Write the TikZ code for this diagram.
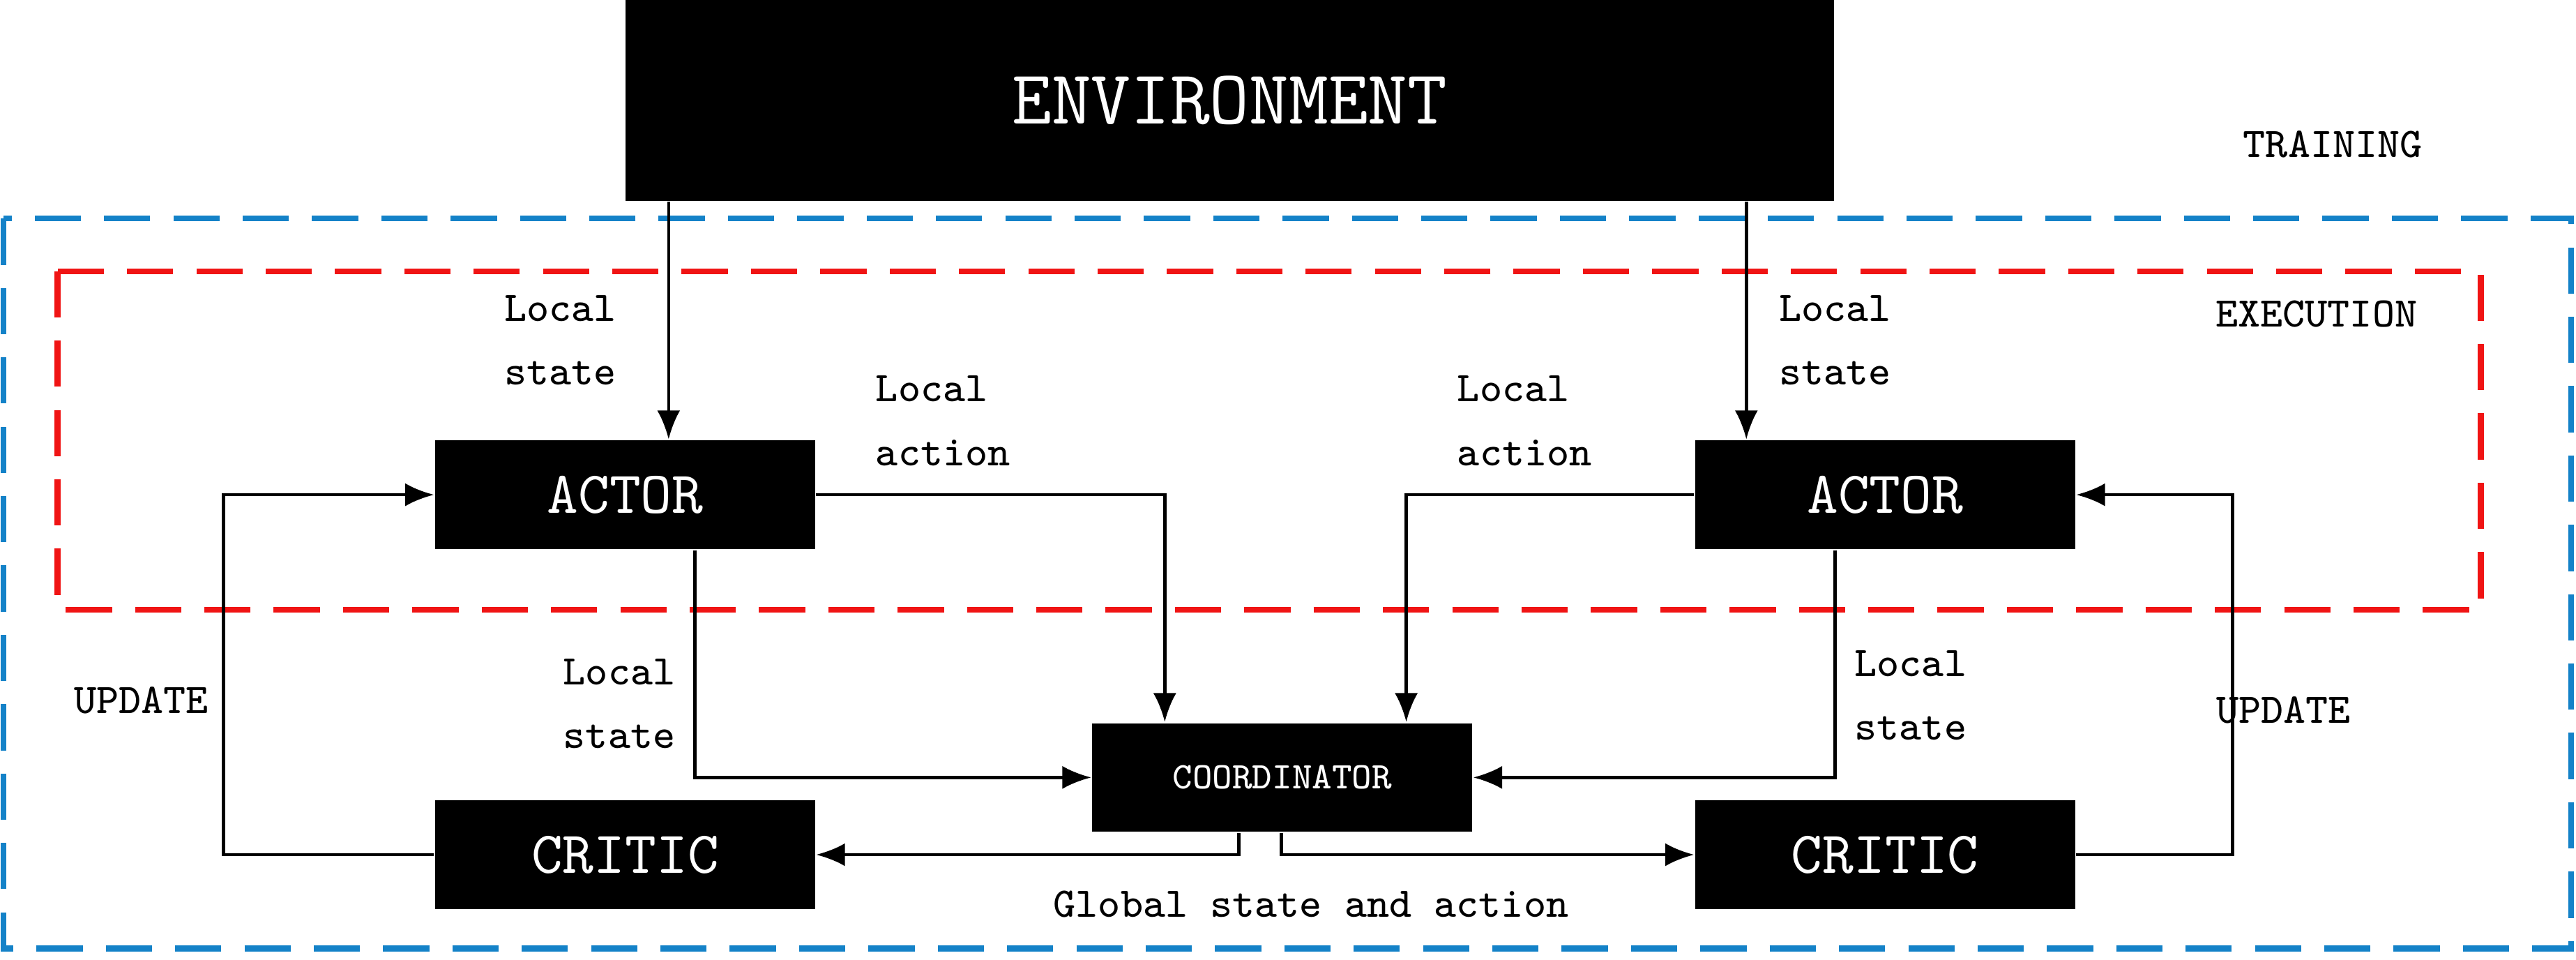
\documentclass[tikz,border=0pt]{standalone}
\usepackage{tikz}
\usetikzlibrary{positioning,calc,arrows.meta}
\tikzset{blk/.style={fill=black, text=white, inner sep=0pt, font=\ttfamily\fontsize{10.3}{12}\selectfont}}
\tikzset{lbl/.style={align=left, inner sep=0pt, font=\ttfamily\fontsize{7.3}{11}\selectfont}}
\tikzset{arr/.style={draw, -{Latex[length=5pt,width=4pt]}, line width=0.55pt}}
\tikzset{zone/.style={dashed, dash pattern=on 8pt off 4pt, line width=1pt}}
\begin{document}
\begin{tikzpicture}[x=0.01cm,y=-0.01cm]
\useasboundingbox (0,0) rectangle (1568,584);
% zones
\draw[zone, draw={rgb,255:red,20;green,130;blue,200}] (2,133) rectangle (1565,577);
\draw[zone, draw={rgb,255:red,240;green,20;blue,20}] (35,165) rectangle (1510,371);
\node[lbl] (training) at (1420,88) {TRAINING};
\node[lbl] (execution) at (1410,191) {EXECUTION};
% boxes
\node[blk, minimum width=7.35cm, minimum height=1.22cm, font=\ttfamily\fontsize{13.3}{15}\selectfont] (env) at (748.5,61) {ENVIRONMENT};
\node[blk, minimum width=2.31cm, minimum height=0.66cm] (actL) at (380.5,301) {ACTOR};
\node[blk, minimum width=2.31cm, minimum height=0.66cm] (actR) at (1147.5,301) {ACTOR};
\node[blk, minimum width=2.31cm, minimum height=0.66cm] (criL) at (380.5,520) {CRITIC};
\node[blk, minimum width=2.31cm, minimum height=0.66cm] (criR) at (1147.5,520) {CRITIC};
\node[blk, minimum width=2.31cm, minimum height=0.66cm, font=\ttfamily\fontsize{6.5}{8}\selectfont] (coord) at (780.5,473) {COORDINATOR};
% connectors
\draw[arr] (env.south -| 407,0) -- (actL.north -| 407,0);
\draw[arr] (env.south -| 1063,0) -- (actR.north -| 1063,0);
\draw[arr] (actL.east) -- (709,301) -- (coord.north -| 709,0);
\draw[arr] (actR.west) -- (856,301) -- (coord.north -| 856,0);
\draw[arr] (actL.south -| 423,0) -- (423,473) -- (coord.west);
\draw[arr] (actR.south -| 1117,0) -- (1117,473) -- (coord.east);
\draw[arr] (coord.south -| 754,0) -- (754,520) -- (criL.east);
\draw[arr] (coord.south -| 780,0) -- (780,520) -- (criR.west);
\draw[arr] (criL.west) -- (136,520) -- (136,301) -- (actL.west);
\draw[arr] (criR.east) -- (1359,520) -- (1359,301) -- (actR.east);
% labels
\node[lbl] (lsL) at (341,207) {Local\\state};
\node[lbl] (lsR) at (1117,207) {Local\\state};
\node[lbl] (laL) at (574,256) {Local\\action};
\node[lbl] (laR) at (928,256) {Local\\action};
\node[lbl] (ls2L) at (377,428) {Local\\state};
\node[lbl] (ls2R) at (1163,423) {Local\\state};
\node[lbl] (updL) at (86,426) {UPDATE};
\node[lbl] (updR) at (1390,432) {UPDATE};
\node[lbl] (glob) at (798,550) {Global state and action};
\end{tikzpicture}
\end{document}
